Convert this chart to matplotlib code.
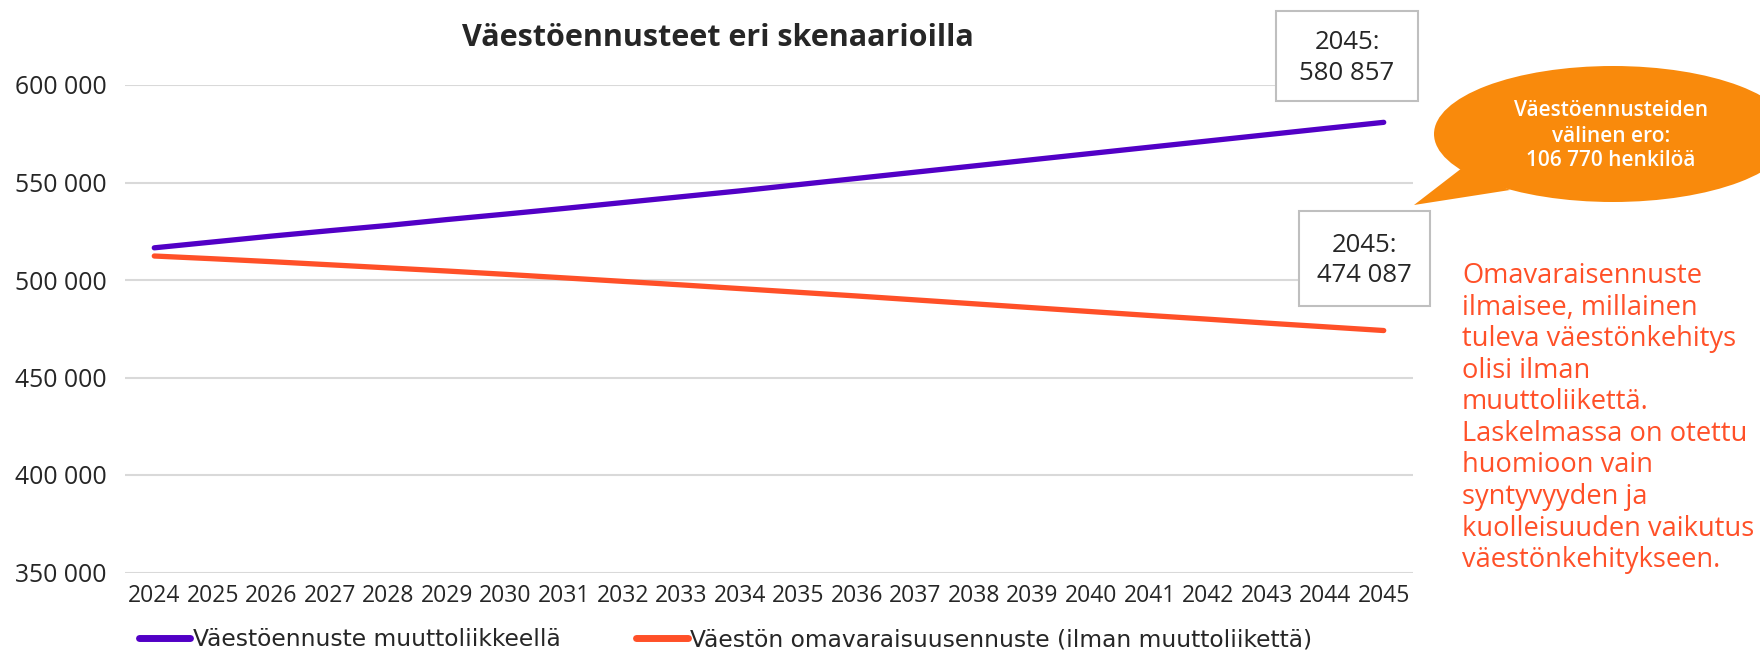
import matplotlib.pyplot as plt
from matplotlib.patches import Rectangle, Ellipse, Polygon
from matplotlib.ticker import FuncFormatter

years = list(range(2024, 2046))
with_migration = [516500, 519500, 522500, 525300, 528000, 531000, 533800, 536700,
                  539700, 542700, 545700, 548900, 552100, 555300, 558500, 561700,
                  564900, 568100, 571300, 574500, 577700, 580857]
self_sufficient = [512300, 510900, 509400, 507800, 506200, 504600, 502900, 501100,
                   499300, 497500, 495600, 493700, 491800, 489800, 487800, 485800,
                   483800, 481800, 479900, 477900, 476000, 474087]
series_names = ["Väestöennuste muuttoliikkeellä",
                "Väestön omavaraisuusennuste (ilman muuttoliikettä)"]
title = "Väestöennusteet eri skenaarioilla"
label_top = "2045:\n580 857"
label_bottom = "2045:\n474 087"
bubble_text = "Väestöennusteiden\nvälinen ero:\n106 770 henkilöä"
side_text = ("Omavaraisennuste\nilmaisee, millainen\ntuleva väestönkehitys\n"
             "olisi ilman\nmuuttoliikettä.\nLaskelmassa on otettu\nhuomioon vain\n"
             "syntyvyyden ja\nkuolleisuuden vaikutus\nväestönkehitykseen.")

PURPLE = "#5200C6"
RED = "#FF5028"
ORANGE = "#F98A0C"
GRID = "#D9D9D9"
TEXT = "#262626"

plt.rcParams['font.family'] = ['Open Sans', 'DejaVu Sans']

fig = plt.figure(figsize=(17.6, 6.5), dpi=100)
ax = fig.add_axes([125 / 1760, 1 - 572.5 / 650, (1413 - 125) / 1760, (572.5 - 85) / 650])

x = list(range(len(years)))
l1, = ax.plot(x, with_migration, color=PURPLE, lw=3.8, solid_capstyle='round')
l2, = ax.plot(x, self_sufficient, color=RED, lw=3.8, solid_capstyle='round')

ax.set_xlim(-0.5, len(years) - 0.5)
ax.set_ylim(350000, 600000)
ax.set_yticks(range(350000, 600001, 50000))
ax.yaxis.set_major_formatter(FuncFormatter(lambda v, p: f"{int(v):,}".replace(",", " ")))
ax.set_xticks(x)
ax.set_xticklabels([str(y) for y in years])
ax.grid(axis='y', color=GRID, lw=1.5)
ax.set_axisbelow(True)
for s in ax.spines.values():
    s.set_visible(False)
ax.tick_params(axis='both', length=0, colors=TEXT)
ax.tick_params(axis='y', labelsize=17.8, pad=13)
ax.tick_params(axis='x', labelsize=16.5, pad=8)

fig.text(718 / 1760, 1 - 38 / 650, title, ha='center', va='center',
         fontsize=22, fontweight='bold', color=TEXT)

fig.legend([l1, l2], series_names, loc='center left', ncol=2,
           bbox_to_anchor=(118 / 1760, 1 - 640 / 650), frameon=False,
           prop={'family': 'DejaVu Sans', 'size': 16.8}, handlelength=2.2,
           handletextpad=0.1, columnspacing=3.25, labelcolor=TEXT)
for h in fig.legends[0].legend_handles:
    h.set_linewidth(5)

# overlay in pixel coordinates for annotations
ov = fig.add_axes([0, 0, 1, 1], zorder=5)
ov.set_xlim(0, 1760)
ov.set_ylim(650, 0)
ov.axis('off')

for (x0, y0, x1, y1), txt in [((1276, 11, 1418, 101), label_top),
                               ((1299, 211, 1430, 306), label_bottom)]:
    ov.add_patch(Rectangle((x0, y0), x1 - x0, y1 - y0, facecolor='white',
                           edgecolor='#BFBFBF', lw=1.5))
    ov.text((x0 + x1) / 2, (y0 + y1) / 2 + 2, txt, ha='center', va='center',
            fontsize=18.5, color=TEXT, linespacing=1.3)

ov.add_patch(Ellipse((1613, 134), 358, 136, facecolor=ORANGE, edgecolor='none'))
ov.add_patch(Polygon([(1462, 168), (1414, 205), (1510, 190)], closed=True,
                     facecolor=ORANGE, edgecolor='none'))
ov.text(1611, 136, bubble_text, ha='center', va='center', fontsize=15,
        fontweight='semibold', color='white', linespacing=1.25)

ov.text(1462, 262, side_text, ha='left', va='top', fontsize=19.6,
        color=RED, linespacing=1.17)

fig.savefig("out.png", dpi=100)
